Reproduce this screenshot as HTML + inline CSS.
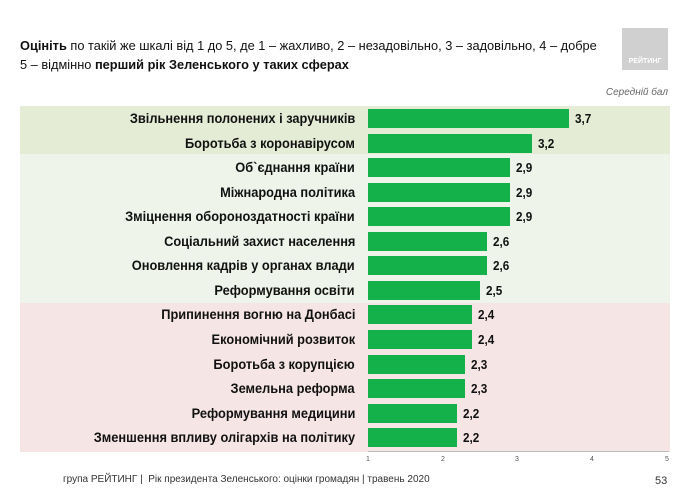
<!DOCTYPE html>
<html><head><meta charset="utf-8"><style>
body{margin:0;width:690px;height:493px;background:#fff;position:relative;overflow:hidden;font-family:"Liberation Sans",sans-serif;color:#111}
.a{position:absolute}
.lab{position:absolute;right:335px;font-weight:bold;font-size:13.5px;white-space:nowrap;transform:scaleX(.95);transform-origin:right center;line-height:19px}
.bar{position:absolute;left:368px;height:19px;background:#14b04a}
.val{position:absolute;font-weight:bold;font-size:13px;line-height:19px;transform:scaleX(.9);transform-origin:left center}
</style></head><body>
<div class="a" style="left:20px;top:106px;width:650px;height:48px;background:#e5ecd6"></div>
<div class="a" style="left:20px;top:154px;width:650px;height:149px;background:#eef4ea"></div>
<div class="a" style="left:20px;top:303px;width:650px;height:149px;background:#f5e5e5"></div>
<div class="a" style="left:622px;top:28px;width:46px;height:42px;background:#d0d0d0;color:#fff;font-size:7px;font-weight:bold;text-align:center;line-height:12px;padding-top:28px;box-sizing:border-box">РЕЙТИНГ</div>
<div class="a" style="left:20px;top:36px;font-size:13px;line-height:19px;white-space:nowrap;transform:scaleX(.985);transform-origin:left top"><b>Оцініть</b> по такій же шкалі від 1 до 5, де 1 – жахливо, 2 – незадовільно, 3 – задовільно, 4 – добре<br>5 – відмінно <b>перший рік Зеленського у таких сферах</b></div>
<div class="a" style="right:22px;top:87px;font-size:10px;font-style:italic;color:#666">Середній бал</div>
<div id="c"></div>
<div class="a" style="left:368px;top:451px;width:301px;height:1px;background:#bbb"></div>
<div class="a" style="left:366px;top:456px;font-size:7px;color:#555">1</div>
<div class="a" style="left:441px;top:456px;font-size:7px;color:#555">2</div>
<div class="a" style="left:515px;top:456px;font-size:7px;color:#555">3</div>
<div class="a" style="left:590px;top:456px;font-size:7px;color:#555">4</div>
<div class="a" style="left:665px;top:456px;font-size:7px;color:#555">5</div>
<div class="a" style="left:63px;top:474px;font-size:10px;color:#333">група РЕЙТИНГ | &nbsp;Рік президента Зеленського: оцінки громадян | травень 2020</div>
<div class="a" style="left:655px;top:475px;font-size:11px;color:#333">53</div>
<script>
var d=[["Звільнення полонених і заручників",3.7],["Боротьба з коронавірусом",3.2],["Об`єднання країни",2.9],["Міжнародна політика",2.9],["Зміцнення обороноздатності країни",2.9],["Соціальний захист населення",2.6],["Оновлення кадрів у органах влади",2.6],["Реформування освіти",2.5],["Припинення вогню на Донбасі",2.4],["Економічний розвиток",2.4],["Боротьба з корупцією",2.3],["Земельна реформа",2.3],["Реформування медицини",2.2],["Зменшення впливу олігархів на політику",2.2]];
var h="";d.forEach(function(r,i){var y=109+i*24.55;var w=(r[1]-1)*74.5;
h+='<div class="lab" style="top:'+y+'px">'+r[0]+'</div><div class="bar" style="top:'+y+'px;width:'+w+'px"></div><div class="val" style="top:'+y+'px;left:'+(368+w+6)+'px">'+String(r[1]).replace(".",",")+'</div>';});
document.getElementById("c").innerHTML=h;
</script>
</body></html>
